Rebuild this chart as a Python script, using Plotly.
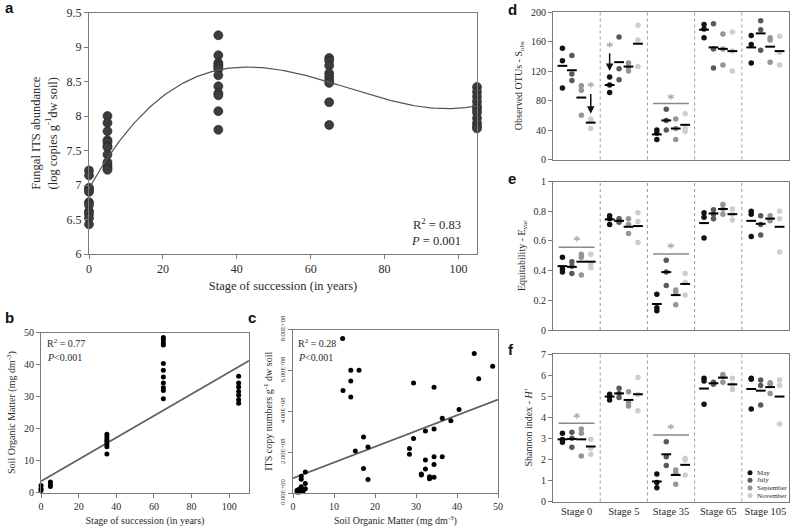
import numpy as np
import plotly.graph_objects as go

# ---- panel a : fungal ITS abundance vs stage of succession
a_x0 = [7.21, 7.14, 6.96, 6.93, 6.90, 6.75, 6.71, 6.62, 6.58, 6.52, 6.43]
a_x5 = [8.00, 7.90, 7.78, 7.65, 7.62, 7.56, 7.55, 7.44, 7.33, 7.29, 7.25, 7.22]
a_x35 = [9.17, 8.88, 8.77, 8.74, 8.71, 8.68, 8.59, 8.43, 8.33, 8.30, 8.07, 7.80]
a_x65 = [8.84, 8.80, 8.73, 8.62, 8.57, 8.52, 8.48, 8.20, 7.87]
a_x105 = [8.42, 8.35, 8.28, 8.21, 8.14, 8.10, 8.05, 7.97, 7.90, 7.85, 7.82]
a_fit = [6.95, 0.09605, -0.001612, 7.676e-6]   # cubic fit, R2 = 0.83

# ---- panel b : soil organic matter vs stage
b_stage = [0, 0, 0, 5, 5, 5,
           35, 35, 35, 35, 35, 35, 35,
           65, 65, 65, 65, 65, 65, 65, 65, 65, 65, 65,
           105, 105, 105, 105, 105, 105, 105]
b_som = [2.2, 1.2, 0.6, 3.3, 2.4, 1.9,
         18.2, 17.4, 16.6, 15.9, 15.1, 14.3, 12.0,
         48.4, 47.7, 46.8, 46.1, 40.3, 38.2, 36.1, 34.2, 32.7, 31.9, 29.3,
         36.3, 34.2, 33.0, 31.6, 30.4, 29.0, 27.9]
b_fit = [3.5, 0.341]

# ---- panel c : ITS copy numbers vs soil organic matter
c_som = [12.1, 12.2, 14.1, 16.1, 14.1, 14.1, 17.2, 18.3, 15.2, 17.2, 18.3,
         29.4, 29.4, 28.4, 28.4, 32.3, 34.4, 34.4, 36.4, 38.5, 40.5,
         44.2, 45.3, 48.7, 32.3, 32.3, 34.4, 34.4, 36.4, 31.3, 31.3, 33.3, 33.3, 34.4,
         1.0, 1.5, 2.0, 2.0, 2.0, 3.0, 3.0, 3.0, 1.0, 1.5, 2.5]
c_its = [7.56, 5.02, 6.00, 6.00, 5.48, 4.70, 2.74, 2.25, 2.05, 1.20, 0.66,
         5.38, 2.67, 2.18, 1.90, 3.03, 5.18, 3.13, 3.66, 3.54, 4.08,
         6.82, 5.59, 6.20, 1.61, 1.18, 1.77, 1.39, 1.77, 0.93, 0.88, 0.79, 0.70, 0.77,
         0.13, 0.18, 0.30, 0.67, 0.82, 0.46, 1.03, 0.21, 0.05, 0.05, 0.10]
c_fit = [0.72, 0.077]
c_ticks = ["0.00E+00", "2.00E+08", "4.00E+08", "6.00E+08", "8.00E+08"]

# ---- panels d-f : diversity per stage and month
stages = ["Stage 0", "Stage 5", "Stage 35", "Stage 65", "Stage 105"]
months = ["May", "July", "September", "November"]

sobs_may = [[151, 134, 97], [112, 101, 91], [40, 36, 27], [183, 177, 165], [168, 156, 131]]
sobs_jul = [[141, 116, 107], [166, 123, 108], [68, 53, 40], [184, 150, 124], [188, 176, 148]]
sobs_sep = [[100, 94, 60], [131, 125, 120], [55, 42, 27], [170, 150, 128], [165, 162, 132]]
sobs_nov = [[55, 53, 42], [182, 162, 126], [62, 42, 38], [173, 147, 120], [167, 145, 128]]
sobs_means = [[127, 101, 34, 176, 152], [121, 132, 53, 152, 171],
              [84, 126, 42, 150, 153], [50, 157, 47, 147, 147]]

evar_may = [[0.49, 0.41, 0.39], [0.77, 0.75, 0.71], [0.24, 0.15, 0.13], [0.79, 0.76, 0.62], [0.80, 0.78, 0.63]]
evar_jul = [[0.46, 0.43, 0.38], [0.75, 0.735, 0.725], [0.47, 0.39, 0.30], [0.81, 0.78, 0.75], [0.77, 0.71, 0.64]]
evar_sep = [[0.51, 0.49, 0.37], [0.75, 0.71, 0.65], [0.27, 0.25, 0.17], [0.845, 0.815, 0.78], [0.77, 0.75, 0.735]]
evar_nov = [[0.51, 0.445, 0.42], [0.79, 0.73, 0.59], [0.38, 0.32, 0.235], [0.815, 0.78, 0.74], [0.80, 0.75, 0.525]]
evar_means = [[0.43, 0.745, 0.175, 0.72, 0.735], [0.425, 0.735, 0.39, 0.785, 0.715],
              [0.46, 0.695, 0.235, 0.815, 0.75], [0.46, 0.70, 0.31, 0.78, 0.695]]

shan_may = [[3.24, 2.94, 2.81], [5.09, 4.98, 4.82], [1.30, 0.90, 0.65], [5.85, 5.72, 4.61], [5.85, 5.80, 4.39]]
shan_jul = [[3.29, 3.00, 2.57], [5.37, 5.13, 4.93], [2.84, 2.12, 1.71], [5.66, 5.60, 5.56], [5.77, 5.50, 4.58]]
shan_sep = [[3.44, 3.24, 2.16], [5.21, 4.71, 4.53], [1.50, 1.34, 0.82], [6.03, 5.92, 5.66], [5.64, 5.56, 5.13]]
shan_nov = [[2.95, 2.53, 2.24], [5.88, 5.08, 4.31], [2.05, 1.97, 1.26], [5.85, 5.55, 5.32], [5.77, 5.50, 3.68]]
shan_means = [[2.95, 4.98, 0.95, 5.36, 5.34], [2.97, 5.13, 2.24, 5.61, 5.26],
              [2.95, 4.82, 1.26, 5.88, 5.43], [2.61, 5.09, 1.74, 5.56, 4.98]]

W, H = 798, 527
SERIF = "Liberation Serif, Times New Roman, serif"
TXT = "#2a2a2a"
FRAME = "#7a7a7a"
month_colors = ["#111111", "#595959", "#959595", "#cdcdcd"]
offsets = [-0.3, -0.1, 0.1, 0.3]


def fx(p):
    return p / W


def fy(p):
    return 1 - p / H


fig = go.Figure()

# panel a
a_groups = [(0, a_x0), (5, a_x5), (35, a_x35), (65, a_x65), (105, a_x105)]
ax_pts, ay_pts = [], []
for st, vals in a_groups:
    ax_pts += [st] * len(vals)
    ay_pts += vals
fig.add_trace(go.Scatter(x=ax_pts, y=ay_pts, mode="markers", cliponaxis=False,
                         marker=dict(size=9, color="#3d3d3d", line=dict(color="#222", width=0.6)),
                         xaxis="x", yaxis="y", showlegend=False))
xs = np.linspace(0, 105, 200)
ys = a_fit[0] + a_fit[1] * xs + a_fit[2] * xs ** 2 + a_fit[3] * xs ** 3
fig.add_trace(go.Scatter(x=xs, y=ys, mode="lines", line=dict(color="#555", width=1.2),
                         xaxis="x", yaxis="y", showlegend=False))

# panel b
fig.add_trace(go.Scatter(x=[0, 110.5], y=[b_fit[0], b_fit[0] + b_fit[1] * 110.5], mode="lines",
                         line=dict(color="#606060", width=1.8), xaxis="x2", yaxis="y2", showlegend=False))
fig.add_trace(go.Scatter(x=b_stage, y=b_som, mode="markers", cliponaxis=False,
                         marker=dict(size=5, color="#000"), xaxis="x2", yaxis="y2", showlegend=False))

# panel c
fig.add_trace(go.Scatter(x=[0, 50], y=[c_fit[0] * 1e8, (c_fit[0] + c_fit[1] * 50) * 1e8], mode="lines",
                         line=dict(color="#606060", width=1.8), xaxis="x3", yaxis="y3", showlegend=False))
fig.add_trace(go.Scatter(x=c_som, y=[v * 1e8 for v in c_its], mode="markers", cliponaxis=False,
                         marker=dict(size=5, color="#000"), xaxis="x3", yaxis="y3", showlegend=False))

# panels d, e, f
panels = [
    ("x4", "y4", [sobs_may, sobs_jul, sobs_sep, sobs_nov], sobs_means),
    ("x5", "y5", [evar_may, evar_jul, evar_sep, evar_nov], evar_means),
    ("x6", "y6", [shan_may, shan_jul, shan_sep, shan_nov], shan_means),
]
for xa, ya, series, means in panels:
    for k, vals in enumerate(series):
        px, py = [], []
        for i, trip in enumerate(vals):
            px += [i + offsets[k]] * len(trip)
            py += trip
        fig.add_trace(go.Scatter(x=px, y=py, mode="markers", cliponaxis=False,
                                 marker=dict(size=5.5, color=month_colors[k]),
                                 xaxis=xa, yaxis=ya, showlegend=False))
        fig.add_trace(go.Scatter(x=[i + offsets[k] for i in range(5)], y=means[k], mode="markers",
                                 cliponaxis=False,
                                 marker=dict(symbol="line-ew", size=7, line=dict(color="#000", width=2)),
                                 xaxis=xa, yaxis=ya, showlegend=False))


def axis(dom, rng, size, **kw):
    d = dict(domain=dom, range=rng, showline=True, mirror=True, linecolor=FRAME, linewidth=1,
             ticks="outside", ticklen=4, tickcolor=FRAME, showgrid=False, zeroline=False,
             automargin=False, tickfont=dict(family=SERIF, size=size, color=TXT))
    d.update(kw)
    return d


dfx = [fx(553), fx(789)]
stage_ax = dict(tickvals=list(range(5)), ticktext=stages, ticks="", showticklabels=False)
fig.update_layout(
    width=W, height=H, margin=dict(l=0, r=0, t=0, b=0),
    paper_bgcolor="white", plot_bgcolor="white",
    font=dict(family=SERIF, color=TXT),
    xaxis=axis([fx(89), fx(477)], [0, 105], 12, anchor="y", dtick=20,
               title=dict(text="Stage of succession (in years)", font=dict(size=12.5), standoff=5)),
    yaxis=axis([fy(254), fy(12.5)], [6, 9.5], 12, anchor="x", dtick=0.5,
               title=dict(text="Fungal ITS abundance<br>(log copies g<sup>-1</sup>dw soil)",
                          font=dict(size=12.5), standoff=6)),
    xaxis2=axis([fx(41), fx(249)], [0, 110.5], 10, anchor="y2", dtick=20,
                title=dict(text="Stage of succession (in years)", font=dict(size=10), standoff=8)),
    yaxis2=axis([fy(492.5), fy(332.5)], [0, 50], 10, anchor="x2", dtick=10,
                title=dict(text="Soil Organic Matter (mg dm<sup>-3</sup>)", font=dict(size=10), standoff=6)),
    xaxis3=axis([fx(293), fx(498)], [0, 50], 10, anchor="y3", dtick=10,
                title=dict(text="Soil Organic Matter (mg dm<sup>-3</sup>)", font=dict(size=10), standoff=8)),
    yaxis3=axis([fy(493), fy(329.5)], [0, 8e8], 6.5, anchor="x3",
                tickvals=[0, 2e8, 4e8, 6e8, 8e8], ticktext=c_ticks, tickangle=-90,
                title=dict(text="ITS copy numbers g<sup>-1</sup> dw soil", font=dict(size=10), standoff=4)),
    xaxis4=axis(dfx, [-0.5, 4.5], 10, anchor="y4", **stage_ax),
    yaxis4=axis([fy(159.5), fy(12)], [0, 200], 10, anchor="x4", dtick=40,
                title=dict(text="Observed OTUs - S<sub>obs</sub>", font=dict(size=10), standoff=6)),
    xaxis5=axis(dfx, [-0.5, 4.5], 10, anchor="y5", **stage_ax),
    yaxis5=axis([fy(330), fy(181.5)], [0, 1], 10, anchor="x5", dtick=0.2,
                title=dict(text="Equitability - E<sub>var</sub>", font=dict(size=10), standoff=6)),
    xaxis6=axis(dfx, [-0.5, 4.5], 10.5, anchor="y6", tickvals=list(range(5)), ticktext=stages, ticks=""),
    yaxis6=axis([fy(501.5), fy(354)], [0, 7], 10, anchor="x6", dtick=1,
                title=dict(text="Shannon index - <i>H'</i>", font=dict(size=10), standoff=6)),
)

shapes = []
# dotted separators between stages
for xa, ya in [("x4", "y4"), ("x5", "y5"), ("x6", "y6")]:
    for s in [0.5, 1.5, 2.5, 3.5]:
        shapes.append(dict(type="line", xref=xa, yref=ya + " domain", x0=s, x1=s, y0=0, y1=1,
                           line=dict(color="#9a9a9a", width=1, dash="dot")))
# significance bars
for xa, ya, stage, yv in [("x4", "y4", 2, 76), ("x5", "y5", 0, 0.557), ("x5", "y5", 2, 0.511),
                          ("x6", "y6", 0, 3.71), ("x6", "y6", 2, 3.16)]:
    shapes.append(dict(type="line", xref=xa, yref=ya, x0=stage - 0.38, x1=stage + 0.38, y0=yv, y1=yv,
                       line=dict(color="#8a8a8a", width=1.5)))
# legend dots
for k, yy in enumerate([472.7, 480.2, 487.9, 495.5]):
    shapes.append(dict(type="circle", xref="paper", yref="paper",
                       x0=fx(747.5), x1=fx(752.5), y0=fy(yy + 2.5), y1=fy(yy - 2.5),
                       fillcolor=month_colors[k], line=dict(width=0)))
fig.update_layout(shapes=shapes)

ann = []
for lab, x, y in [("a", 3, 8), ("b", 3, 317), ("c", 246, 317), ("d", 506, 9), ("e", 506, 178), ("f", 506, 349)]:
    ann.append(dict(text="<b>" + lab + "</b>", x=fx(x), y=fy(y), xref="paper", yref="paper",
                    xanchor="left", yanchor="middle", showarrow=False,
                    font=dict(family="Liberation Sans, Arial", size=15, color="#111")))
# statistics
for t, x, y, xa, size in [("R<sup>2</sup> = 0.83", 463, 224, "right", 12.5),
                          ("<i>P</i> = 0.001", 463, 241, "right", 12.5),
                          ("R<sup>2</sup> = 0.77", 45, 343, "left", 10),
                          ("<i>P</i>&lt;0.001", 45, 357, "left", 10),
                          ("R<sup>2</sup> = 0.28", 296, 343, "left", 10),
                          ("<i>P</i>&lt;0.001", 296, 357, "left", 10)]:
    ann.append(dict(text=t, x=fx(x), y=fy(y), xref="paper", yref="paper", xanchor=xa, yanchor="middle",
                    showarrow=False, font=dict(family=SERIF, size=size, color=TXT)))
# stars
for xa, ya, xv, yv in [("x4", "y4", 0.3, 98), ("x4", "y4", 0.7, 152), ("x4", "y4", 2, 82),
                       ("x5", "y5", 0, 0.60), ("x5", "y5", 2, 0.55),
                       ("x6", "y6", 0, 3.98), ("x6", "y6", 2, 3.43)]:
    ann.append(dict(text="*", x=xv, y=yv, xref=xa, yref=ya, showarrow=False, yanchor="middle",
                    font=dict(family=SERIF, size=15, color="#8a8a8a")))
# arrows
for xv, y0, y1 in [(0.3, 91, 62), (0.7, 146, 120)]:
    ann.append(dict(text="", x=xv, y=y1, ax=xv, ay=y0, xref="x4", yref="y4", axref="x4", ayref="y4",
                    showarrow=True, arrowhead=2, arrowsize=1, arrowwidth=1.5, arrowcolor="#111"))
# legend labels
for k, yy in enumerate([472.7, 480.2, 487.9, 495.5]):
    ann.append(dict(text=months[k], x=fx(755), y=fy(yy), xref="paper", yref="paper",
                    xanchor="left", yanchor="middle", showarrow=False,
                    font=dict(family=SERIF, size=7, color=TXT)))
fig.update_layout(annotations=ann)

# drop the default body margin so the figure sits at the top-left corner of the page
fig.write_html("out.html", config={"displayModeBar": False},
               post_script="document.body.style.margin = '0';")
